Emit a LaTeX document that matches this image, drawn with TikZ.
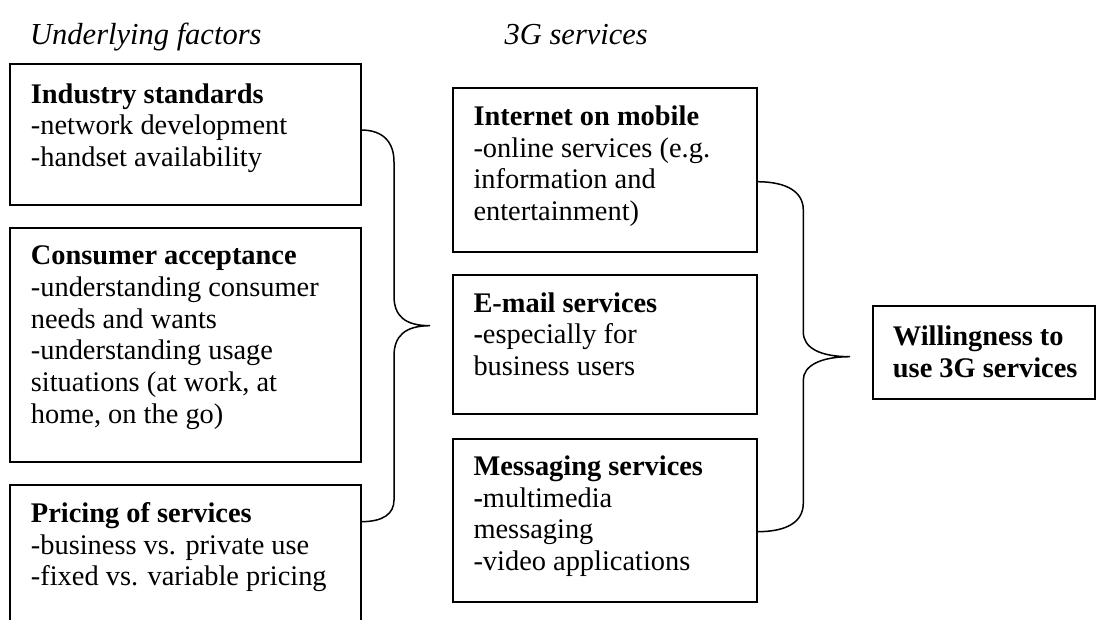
\documentclass[tikz,border=0pt]{standalone}
\usepackage{fontspec}
\setmainfont{Liberation Serif}
\usetikzlibrary{calc}
\begin{document}
\begin{tikzpicture}[x=1pt,y=-1pt,
  boxnode/.style={draw, line width=1.6pt, anchor=north west, inner sep=0pt, outer sep=0pt},
  bodytext/.style={anchor=north west, inner sep=0pt, align=left, font=\fontsize{28.4}{31.7}\selectfont},
  headtext/.style={anchor=base west, inner sep=0pt, font=\fontsize{30.5}{34}\selectfont\itshape},
  bracel/.style={line width=1.5pt}]
\path[use as bounding box, clip] (0,0) rectangle (1097,620);
\fill[white] (0,0) rectangle (1097,620);
% headings
\node[headtext] (h1) at (30,44.6) {Underlying factors};
\node[headtext] (h2) at (504.5,44.6) {3G services};
% left boxes
\node[boxnode, minimum width=351pt, minimum height=141pt] (b1) at (10,64) {};
\node[boxnode, minimum width=351pt, minimum height=234pt] (b2) at (10,228) {};
\node[boxnode, minimum width=351pt, minimum height=200pt] (b3) at (10,485) {};
% middle boxes
\node[boxnode, minimum width=304pt, minimum height=164pt] (m1) at (453,88) {};
\node[boxnode, minimum width=304pt, minimum height=139pt] (m2) at (453,275) {};
\node[boxnode, minimum width=304pt, minimum height=163pt] (m3) at (453,439) {};
% result box
\node[boxnode, minimum width=222pt, minimum height=93pt] (wb) at (873,306) {};
% texts
\node[bodytext] (t1) at (30.7,83.3) {\textbf{Industry standards}\\-network development\\-handset availability};
\node[bodytext] (t2) at (30.7,245.6) {\textbf{Consumer acceptance}\\-understanding consumer\\needs and wants\\-understanding usage\\situations (at work, at\\home, on the go)};
\node[bodytext] (t3) at (30.7,502.3) {\textbf{Pricing of services}\\-business vs. private use\\-fixed vs. variable pricing};
\node[bodytext] (t4) at (473.3,105.6) {\textbf{Internet on mobile}\\-online services (e.g.\\information and\\entertainment)};
\node[bodytext] (t5) at (473.3,292.3) {\textbf{E-mail services}\\\textbf{-}especially for\\business users};
\node[bodytext] (t6) at (473.3,455.6) {\textbf{Messaging services}\\\textbf{-}multimedia\\messaging\\-video applications};
\node[bodytext, font=\fontsize{28.4}{31.7}\selectfont\bfseries] (t7) at (892.7,325.6) {Willingness to\\use 3G services};
% brace tips
\coordinate (lt) at (430,325.7);
\coordinate (rt) at (850,356.7);
% left brace
\draw[bracel] ($(b1.north east)+(0,66)$) .. controls (383,130) and (394,142) .. (394,162)
  -- (394,296) .. controls (394,316) and (405,325.7) .. (lt)
  .. controls (405,325.7) and (394,336) .. (394,356)
  -- (394,500) .. controls (394,514) and (383,521.7) .. ($(b3.north east)+(0,36.7)$);
% right brace
\draw[bracel] ($(m1.north east)+(0,93.7)$) .. controls (787,181.7) and (803.3,192) .. (803.3,210)
  -- (803.3,332) .. controls (803.3,348) and (820,356.7) .. (rt)
  .. controls (820,356.7) and (803.3,366) .. (803.3,380)
  -- (803.3,503) .. controls (803.3,522) and (787,531.7) .. ($(m3.north east)+(0,92.7)$);
\end{tikzpicture}
\end{document}
